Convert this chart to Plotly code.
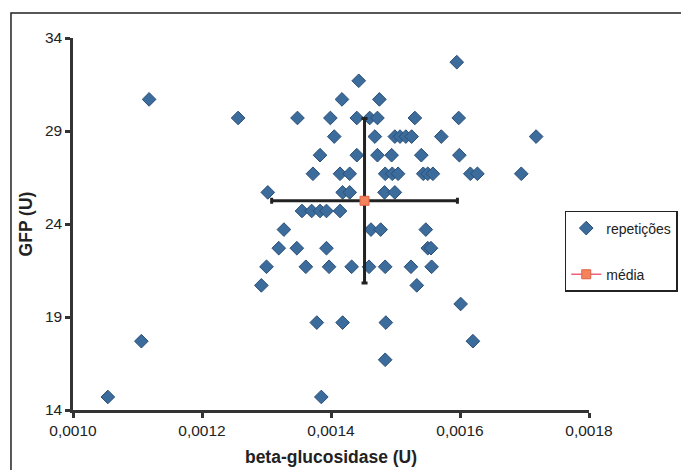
import plotly.graph_objects as go

# Replicate measurements: beta-glucosidase activity (U) vs GFP (U)
beta_glucosidase = [
    0.001595,
    0.001443,
    0.001118, 0.001417, 0.001475,
    0.001256, 0.001348, 0.001399, 0.001440, 0.001460, 0.001472, 0.001530, 0.001598,
    0.001405, 0.001468, 0.001499, 0.001507, 0.001516, 0.001525, 0.001571, 0.001718,
    0.001383, 0.001440, 0.001472, 0.001494, 0.001540, 0.001599,
    0.001372, 0.001414, 0.001429, 0.001484, 0.001495, 0.001504, 0.001543, 0.001550,
    0.001558, 0.001616, 0.001627, 0.001695,
    0.001302, 0.001418, 0.001429, 0.001483, 0.001499,
    0.001355, 0.001370, 0.001383, 0.001393, 0.001414,
    0.001327, 0.001462, 0.001477, 0.001547,
    0.001319, 0.001347, 0.001393, 0.001550, 0.001555,
    0.001300, 0.001361, 0.001397, 0.001432, 0.001459, 0.001484, 0.001524, 0.001556,
    0.001292, 0.001533,
    0.001601,
    0.001378, 0.001418, 0.001485,
    0.001106, 0.001620,
    0.001484,
    0.001054, 0.001385,
]
gfp = [
    32.7,
    31.7,
    30.7, 30.7, 30.7,
    29.7, 29.7, 29.7, 29.7, 29.7, 29.7, 29.7, 29.7,
    28.7, 28.7, 28.7, 28.7, 28.7, 28.7, 28.7, 28.7,
    27.7, 27.7, 27.7, 27.7, 27.7, 27.7,
    26.7, 26.7, 26.7, 26.7, 26.7, 26.7, 26.7, 26.7,
    26.7, 26.7, 26.7, 26.7,
    25.7, 25.7, 25.7, 25.7, 25.7,
    24.7, 24.7, 24.7, 24.7, 24.7,
    23.7, 23.7, 23.7, 23.7,
    22.7, 22.7, 22.7, 22.7, 22.7,
    21.7, 21.7, 21.7, 21.7, 21.7, 21.7, 21.7, 21.7,
    20.7, 20.7,
    19.7,
    18.7, 18.7, 18.7,
    17.7, 17.7,
    16.7,
    14.7, 14.7,
]

# Mean and standard deviation
mean_beta = [0.001452]
mean_gfp = [25.25]
sd_beta = [0.000144]
sd_gfp = [4.42]

x_ticks = [0.0010, 0.0012, 0.0014, 0.0016, 0.0018]
y_ticks = [14, 19, 24, 29, 34]

FONT = "Arial, 'Liberation Sans', sans-serif"

fig = go.Figure()

fig.add_trace(go.Scatter(
    x=beta_glucosidase, y=gfp, mode="markers", name="repetições",
    legendgroup="rep",
    marker=dict(symbol="diamond", size=10.5, color="#3C6C9C",
                line=dict(color="#2A4F78", width=1)),
))

fig.add_trace(go.Scatter(
    x=mean_beta, y=mean_gfp, mode="lines+markers", name="média",
    legendgroup="med",
    line=dict(color="#F0607A", width=1.5),
    marker=dict(symbol="square", size=9, color="#F3845A",
                line=dict(color="#E0604A", width=1)),
    error_x=dict(type="data", array=sd_beta, color="#222222", thickness=3, width=3),
    error_y=dict(type="data", array=sd_gfp, color="#222222", thickness=3, width=3),
))

fig.update_layout(
    width=681, height=470,
    margin=dict(l=73, r=92, t=38, b=60, autoexpand=False),
    paper_bgcolor="white", plot_bgcolor="white",
    separators=",.",
    font=dict(family=FONT, color="#222222"),
    showlegend=True,
    legend=dict(
        x=0.953, y=0.535, xanchor="left", yanchor="top",
        bordercolor="#222222", borderwidth=1.5, bgcolor="white",
        font=dict(size=14, family=FONT),
        traceorder="grouped", tracegroupgap=25,
    ),
    shapes=[dict(
        type="rect", xref="paper", yref="paper",
        x0=-0.1202, x1=1.25, y0=-0.2, y1=1.0672,
        line=dict(color="#222222", width=1.5), layer="below",
    )],
)

fig.update_xaxes(
    range=[0.0010, 0.0018], tickvals=x_ticks, tickformat=".4f",
    showgrid=False, zeroline=False, automargin=False,
    showline=True, linecolor="#333333", linewidth=2.5,
    ticks="outside", ticklen=5, tickwidth=2.5, tickcolor="#333333",
    tickfont=dict(size=15.5, family=FONT),
    title=dict(text="<b>beta-glucosidase (U)</b>", font=dict(size=17.5, family=FONT), standoff=13),
)
fig.update_yaxes(
    range=[14, 34], tickvals=y_ticks,
    showgrid=False, zeroline=False, automargin=False,
    showline=True, linecolor="#333333", linewidth=2.5,
    ticks="outside", ticklen=5, tickwidth=2.5, tickcolor="#333333",
    tickfont=dict(size=15.5, family=FONT),
    title=dict(text="<b>GFP (U)</b>", font=dict(size=17.5, family=FONT), standoff=8),
)

fig.write_html("out.html")
